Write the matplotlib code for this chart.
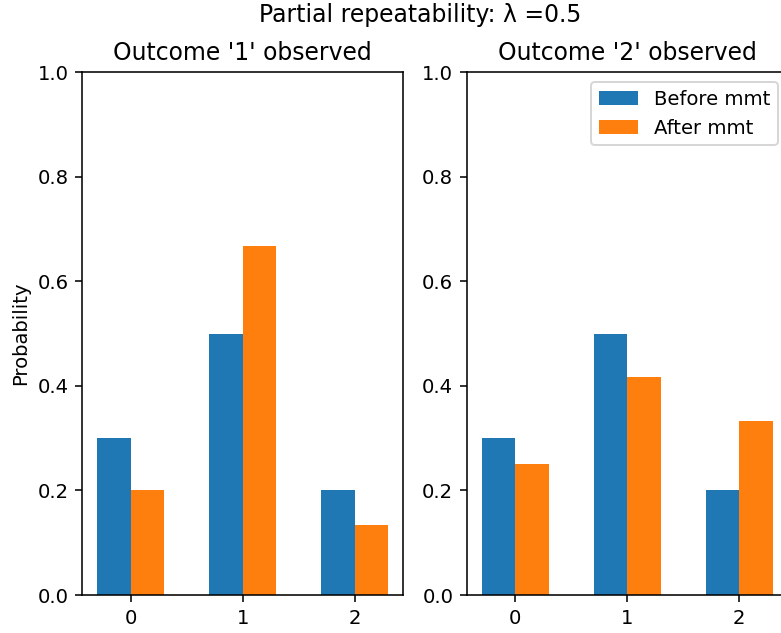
import numpy as np
import matplotlib.pyplot as plt

outcomes = [0, 1, 2]
before_mmt = [0.3, 0.5, 0.2]
after_obs1 = [0.2, 0.667, 0.133]
after_obs2 = [0.25, 0.417, 0.333]
lam = 0.5

dpi = 141
fig = plt.figure(figsize=(781 / dpi, 633 / dpi), dpi=dpi)
ax1 = fig.add_axes([0.1056, 0.060, 0.4104, 0.826])
ax2 = fig.add_axes([0.598, 0.060, 0.4104, 0.826])

x = np.array(outcomes)
w = 0.3
for ax, after, label in [(ax1, after_obs1, '1'), (ax2, after_obs2, '2')]:
    ax.bar(x - w / 2, before_mmt, w, label='Before mmt')
    ax.bar(x + w / 2, after, w, label='After mmt')
    ax.set_xticks(x)
    ax.set_ylim(0, 1)
    ax.set_title(f"Outcome '{label}' observed")

ax1.set_ylabel('Probability')
ax2.legend(loc='upper right')
fig.suptitle(f'Partial repeatability: λ ={lam}', x=0.538, y=0.995)

fig.savefig('out.png', dpi=dpi)
